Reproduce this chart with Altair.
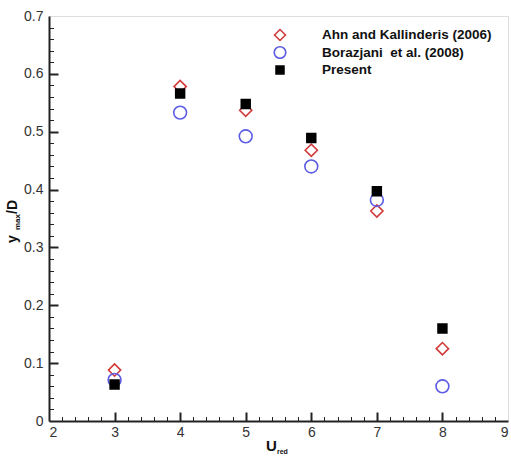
import altair as alt
import numpy as np
import pandas as pd

# Reduced velocity and maximum transverse amplitude for each source
u_red = [3, 4, 5, 6, 7, 8]
ahn_kallinderis = [0.088, 0.578, 0.537, 0.468, 0.363, 0.125]
borazjani = [0.071, 0.533, 0.492, 0.440, 0.382, 0.060]
present = [0.063, 0.566, 0.548, 0.489, 0.397, 0.160]

series_names = ["Ahn and Kallinderis (2006)", "Borazjani\u00a0 et al. (2008)", "Present"]
series_values = [ahn_kallinderis, borazjani, present]
series_shapes = ["diamond", "circle", "square"]
series_strokes = ["#d23a3a", "#5c5ce4", "#000000"]
series_fills = ["transparent", "transparent", "#000000"]
series_sizes = [150, 165, 78]

x_major = [2, 3, 4, 5, 6, 7, 8, 9]
y_major = [0, 0.1, 0.2, 0.3, 0.4, 0.5, 0.6, 0.7]
x_minor = [round(v, 2) for v in np.arange(2, 9.001, 0.2) if abs(v - round(v)) > 1e-6]
y_minor = [round(v, 3) for v in np.arange(0, 0.7001, 0.02) if abs(v * 10 - round(v * 10)) > 1e-6]

rows = []
for name, vals, shp, stk, fil, sz in zip(series_names, series_values, series_shapes,
                                         series_strokes, series_fills, series_sizes):
    for u, v in zip(u_red, vals):
        rows.append({"u": u, "y": v, "series": name, "shape": shp,
                     "stroke": stk, "fill": fil, "size": sz})
df = pd.DataFrame(rows)

FONT = "Liberation Sans"
W, H = 459, 405
LABEL_SIZE = 14

xscale = alt.Scale(domain=[2, 9], nice=False, zero=False)
yscale = alt.Scale(domain=[0, 0.7], nice=False, zero=False)

main_x = alt.Axis(orient="bottom", values=x_major, title=None, ticks=False, tickSize=0,
                  grid=False, labelPadding=4, format="~g", domainColor="#222", domainWidth=2,
                  labelFont=FONT, labelFontSize=LABEL_SIZE, labelColor="#333")
main_y = alt.Axis(orient="left", values=y_major, title=None, ticks=False, tickSize=0,
                  grid=False, labelPadding=6, format="~g", domainColor="#222", domainWidth=2,
                  labelFont=FONT, labelFontSize=LABEL_SIZE, labelColor="#333")

points = alt.Chart(df).mark_point(strokeWidth=1.6, opacity=1, fillOpacity=1).encode(
    x=alt.X("u:Q", scale=xscale, axis=main_x),
    y=alt.Y("y:Q", scale=yscale, axis=main_y),
    shape=alt.Shape("shape:N", scale=None),
    stroke=alt.Stroke("stroke:N", scale=None),
    fill=alt.Fill("fill:N", scale=None),
    size=alt.Size("size:Q", scale=None),
)


def tick_layer(xvals, yvals, length, width):
    ax_x = alt.Axis(orient="bottom", values=xvals, title=None, labels=False, domain=False,
                    grid=False, ticks=True, tickSize=length, tickWidth=width,
                    tickColor="#222", offset=-length)
    ax_y = alt.Axis(orient="left", values=yvals, title=None, labels=False, domain=False,
                    grid=False, ticks=True, tickSize=length, tickWidth=width,
                    tickColor="#222", offset=-length)
    return alt.Chart(df).mark_point(opacity=0).encode(
        x=alt.X("u:Q", scale=xscale, axis=ax_x),
        y=alt.Y("y:Q", scale=yscale, axis=ax_y),
    )


major_ticks = tick_layer(x_major[1:-1], y_major[1:-1], 9, 2)
minor_ticks = tick_layer(x_minor, y_minor, 4.5, 1)

one_row = pd.DataFrame({"k": [0]})


def label(text, x, y, size, angle=0, baseline="alphabetic"):
    return alt.Chart(one_row).mark_text(
        text=text, font=FONT, fontWeight="bold", fontSize=size, color="#111",
        align="left", baseline=baseline, angle=angle,
    ).encode(x=alt.value(x), y=alt.value(y))


# Legend in the upper right of the plot area
legend_layers = []
for i, (name, shp, stk, fil, sz) in enumerate(zip(series_names, series_shapes,
                                                  series_strokes, series_fills, series_sizes)):
    row_y = 19 + i * 17.5
    legend_layers.append(
        alt.Chart(one_row).mark_point(shape=shp, stroke=stk, fill=fil, size=sz * 0.8,
                                      strokeWidth=1.6, opacity=1, fillOpacity=1)
        .encode(x=alt.value(231), y=alt.value(row_y))
    )
    legend_layers.append(label(name, 273, row_y, 13.5, baseline="middle"))

# Axis titles with subscripts: U_red and y_max/D
titles = [
    label("U", 217, 435, 15),
    label("red", 228, 438, 7),
    label("y", -32, 227, 14, 270),
    label("max", -29, 214, 8, 270),
    label("/D", -32, 198, 14, 270),
]

chart = alt.layer(major_ticks, minor_ticks, points, *legend_layers, *titles).resolve_axis(
    x="independent", y="independent"
).properties(
    width=W, height=H,
    autosize=alt.AutoSizeParams(type="none"),
    padding={"left": 49, "top": 16, "right": 3, "bottom": 37},
).configure_view(
    stroke="#222", strokeWidth=2
).configure(background="white")

chart.save("out.html", embed_options={"renderer": "svg", "actions": False})
